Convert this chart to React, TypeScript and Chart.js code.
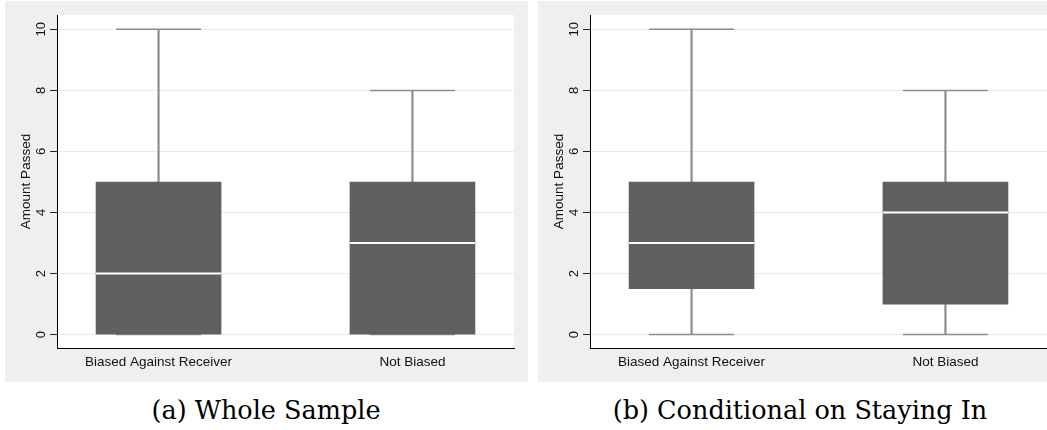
import { useEffect, useRef } from "react"
import { Chart, registerables } from "chart.js"

Chart.register(...registerables)

const GROUPS = ["Biased Against Receiver", "Not Biased"]
const Y_TICKS = [0, 2, 4, 6, 8, 10]

// (a) whole sample
const WHOLE_MIN = [0, 0]
const WHOLE_Q1 = [0, 0]
const WHOLE_MEDIAN = [2, 3]
const WHOLE_Q3 = [5, 5]
const WHOLE_MAX = [10, 8]

// (b) conditional on staying in
const STAY_MIN = [0, 0]
const STAY_Q1 = [1.5, 1]
const STAY_MEDIAN = [3, 4]
const STAY_Q3 = [5, 5]
const STAY_MAX = [10, 8]

const SANS = "'Liberation Sans', Arial, sans-serif"
const WHISKER = "#8c8c8c"
const BOX = "#606060"
const TEXT = "#111111"

const PANEL_W = 523
const PANEL_H = 381

// white plot region on the grey graph region
const whiteArea = {
  id: "whiteArea",
  beforeDraw(chart: Chart) {
    const { ctx, chartArea: a } = chart
    ctx.save()
    ctx.fillStyle = "#ffffff"
    ctx.fillRect(a.left, a.top, a.right - a.left, a.bottom - a.top)
    ctx.restore()
  },
}

// Stata-style vertical tick labels on the y axis
const verticalYLabels = {
  id: "verticalYLabels",
  afterDraw(chart: Chart) {
    const { ctx, chartArea: a } = chart
    const y = chart.scales.y
    ctx.save()
    ctx.fillStyle = TEXT
    ctx.font = `13px ${SANS}`
    ctx.textAlign = "center"
    ctx.textBaseline = "middle"
    for (const t of y.ticks) {
      ctx.save()
      ctx.translate(a.left - 16, y.getPixelForValue(t.value))
      ctx.rotate(-Math.PI / 2)
      ctx.fillText(String(t.value), 0, 0)
      ctx.restore()
    }
    ctx.restore()
  },
}

interface BoxPanelProps {
  mins: number[]
  q1s: number[]
  medians: number[]
  q3s: number[]
  maxs: number[]
}

function BoxPanel({ mins, q1s, medians, q3s, maxs }: BoxPanelProps) {
  const chartRef = useRef<HTMLCanvasElement>(null)
  const chartInstance = useRef<Chart | null>(null)

  useEffect(() => {
    if (!chartRef.current) return
    if (chartInstance.current) chartInstance.current.destroy()
    const ctx = chartRef.current.getContext("2d")
    if (!ctx) return

    const idx = GROUPS.map((_, i) => i)

    chartInstance.current = new Chart(ctx, {
      type: "bar",
      data: {
        datasets: [
          {
            type: "scatter",
            label: "median",
            order: 0,
            data: idx.map((i) => ({ x: i, y: medians[i] })),
            pointStyle: "line",
            pointRadius: 62.5,
            borderColor: "#ffffff",
            borderWidth: 2,
          },
          {
            type: "bar",
            label: "box",
            order: 1,
            grouped: false,
            data: idx.map((i) => ({ x: i, y: [q1s[i], q3s[i]] })),
            backgroundColor: BOX,
            barThickness: 125,
          },
          {
            type: "scatter",
            label: "caps",
            order: 2,
            data: idx.flatMap((i) => [
              { x: i, y: mins[i] },
              { x: i, y: maxs[i] },
            ]),
            pointStyle: "line",
            pointRadius: 42.5,
            borderColor: WHISKER,
            borderWidth: 1.5,
          },
          {
            type: "bar",
            label: "whisker",
            order: 3,
            grouped: false,
            data: idx.map((i) => ({ x: i, y: [mins[i], maxs[i]] })),
            backgroundColor: WHISKER,
            barThickness: 1.5,
          },
        ] as any,
      },
      options: {
        animation: false,
        responsive: false,
        devicePixelRatio: 1,
        layout: { autoPadding: false, padding: { top: 14, right: 14, left: 0, bottom: 0 } },
        plugins: {
          legend: { display: false },
          tooltip: { enabled: false },
        },
        scales: {
          x: {
            type: "linear",
            min: -0.4,
            max: 1.4,
            offset: false,
            afterBuildTicks: (s: any) => {
              s.ticks = idx.map((i) => ({ value: i }))
            },
            afterFit: (s: any) => {
              s.height = 34
            },
            grid: { display: false, drawTicks: false },
            border: { display: true, color: "#000000", width: 1 },
            ticks: {
              autoSkip: false,
              maxRotation: 0,
              padding: 6,
              color: TEXT,
              font: { family: SANS, size: 13.5 },
              callback: (v: any) => GROUPS[v as number] ?? "",
            },
          },
          y: {
            min: -0.44,
            max: 10.47,
            afterBuildTicks: (s: any) => {
              s.ticks = Y_TICKS.map((v) => ({ value: v }))
            },
            afterFit: (s: any) => {
              s.width = 52
            },
            grid: { color: "#eaeaea", tickColor: "#222222", tickLength: 7, lineWidth: 1 },
            border: { display: true, color: "#000000", width: 1 },
            ticks: { display: false },
            title: {
              display: true,
              text: "Amount Passed",
              color: TEXT,
              padding: { top: 13, bottom: 0 },
              font: { family: SANS, size: 13.5 },
            },
          },
        },
      },
      plugins: [whiteArea, verticalYLabels],
    })

    return () => {
      if (chartInstance.current) {
        chartInstance.current.destroy()
        chartInstance.current = null
      }
    }
  }, [mins, q1s, medians, q3s, maxs])

  return (
    <canvas
      ref={chartRef}
      width={PANEL_W}
      height={PANEL_H}
      style={{ display: "block", width: PANEL_W, height: PANEL_H }}
    />
  )
}

const panelStyle = (left: number): React.CSSProperties => ({
  position: "absolute",
  left,
  top: 1,
  width: PANEL_W,
  height: PANEL_H,
  background: "#efefef",
})

const captionStyle = (center: number): React.CSSProperties => ({
  position: "absolute",
  left: center - 250,
  width: 500,
  top: 395,
  height: 30,
  lineHeight: "30px",
  textAlign: "center",
  fontFamily: "'DejaVu Serif', serif",
  fontSize: 25.5,
  color: "#000",
  whiteSpace: "nowrap",
})

export default function App() {
  return (
    <div
      style={{
        position: "fixed",
        left: 0,
        top: 0,
        width: 1047,
        height: 430,
        background: "#ffffff",
        overflow: "hidden",
      }}
    >
      <div style={panelStyle(5)}>
        <BoxPanel mins={WHOLE_MIN} q1s={WHOLE_Q1} medians={WHOLE_MEDIAN} q3s={WHOLE_Q3} maxs={WHOLE_MAX} />
      </div>
      <div style={panelStyle(538)}>
        <BoxPanel mins={STAY_MIN} q1s={STAY_Q1} medians={STAY_MEDIAN} q3s={STAY_Q3} maxs={STAY_MAX} />
      </div>
      <div style={captionStyle(266)}>(a) Whole Sample</div>
      <div style={captionStyle(800)}>(b) Conditional on Staying In</div>
    </div>
  )
}
